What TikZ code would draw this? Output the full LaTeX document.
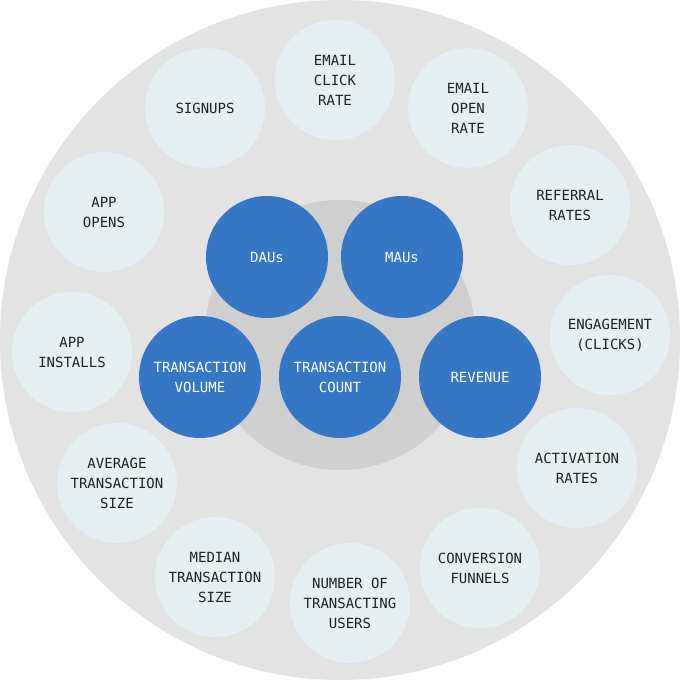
\documentclass[tikz,border=0pt]{standalone}
\usepackage{fontspec}
\setmonofont{DejaVu Sans Mono}
\begin{document}
\begin{tikzpicture}[x=1pt,y=-1pt,
  lt/.style={circle,fill=light,minimum size=120pt,inner sep=0pt,align=center,text=txt,font=\fontsize{14}{20}\selectfont\ttfamily},
  dk/.style={circle,fill=blu,minimum size=122pt,inner sep=0pt,align=center,text=white,font=\fontsize{14}{20}\selectfont\ttfamily}]
\definecolor{light}{HTML}{E6F0F2}
\definecolor{outer}{HTML}{E3E3E3}
\definecolor{inner}{HTML}{CFCFCF}
\definecolor{blu}{HTML}{3577C4}
\definecolor{txt}{HTML}{222222}
\useasboundingbox (0,0) rectangle (680,680);
\fill[outer] (340,340) circle (340);
\fill[inner] (340,335) circle (135);
\node[lt] (ecr) at (335,80) {EMAIL\\CLICK\\RATE};
\node[lt] (sig) at (205,108) {SIGNUPS};
\node[lt] (eor) at (468,108) {EMAIL\\OPEN\\RATE};
\node[lt] (ao) at (104,212) {APP\\OPENS};
\node[lt] (rr) at (570,205) {REFERRAL\\RATES};
\node[lt] (ai) at (72,352) {APP\\INSTALLS};
\node[lt] (eng) at (610,335) {ENGAGEMENT\\(CLICKS)};
\node[lt] (ats) at (117,483) {AVERAGE\\TRANSACTION\\SIZE};
\node[lt] (act) at (577,468) {ACTIVATION\\RATES};
\node[lt] (mts) at (215,577) {MEDIAN\\TRANSACTION\\SIZE};
\node[lt] (ntu) at (350,603) {NUMBER OF\\TRANSACTING\\USERS};
\node[lt] (cf) at (480,568) {CONVERSION\\FUNNELS};
\node[dk] (dau) at (267,257) {DAUs};
\node[dk] (mau) at (402,257) {MAUs};
\node[dk] (tv) at (200,377) {TRANSACTION\\VOLUME};
\node[dk] (tc) at (340,377) {TRANSACTION\\COUNT};
\node[dk] (rev) at (480,377) {REVENUE};
\end{tikzpicture}
\end{document}
